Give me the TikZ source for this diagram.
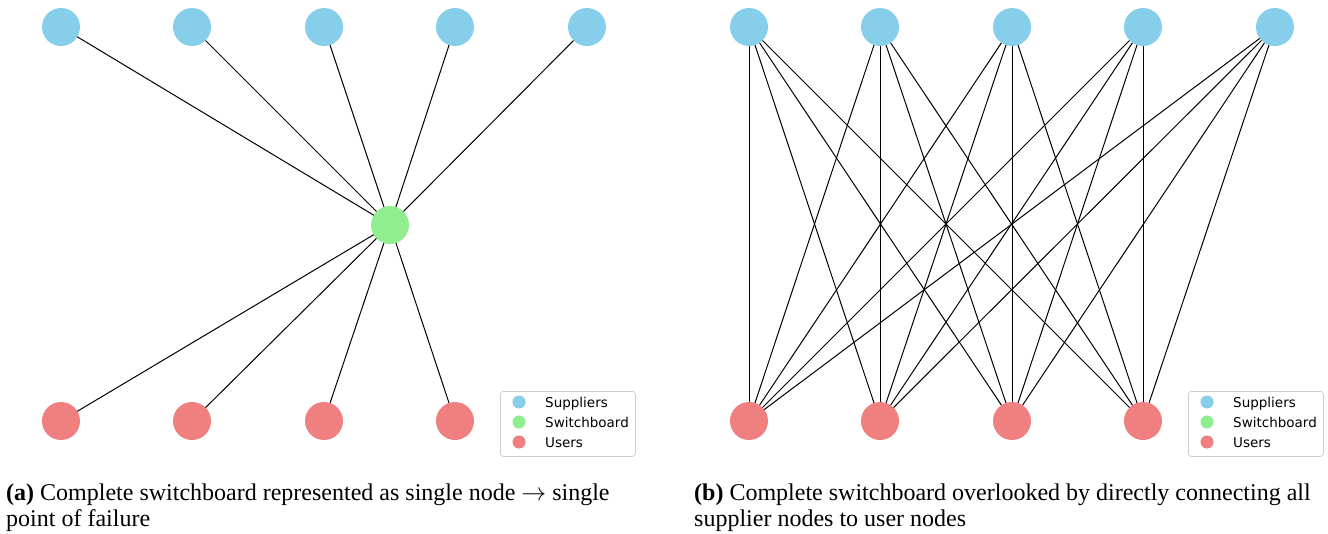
\documentclass[tikz,border=0pt]{standalone}
\usepackage{fontspec}
\setmainfont{Liberation Serif}
\newfontfamily\legfont{DejaVu Sans}
\usetikzlibrary{backgrounds}
\definecolor{supc}{HTML}{87CEEB}
\definecolor{swc}{HTML}{90EE90}
\definecolor{usrc}{HTML}{F08080}
\begin{document}
\begin{tikzpicture}[x=1pt,y=-1pt,
  vert/.style={circle,inner sep=0pt,minimum size=38pt,draw=none},
  supnode/.style={vert,fill=supc},
  swnode/.style={vert,fill=swc},
  usrnode/.style={vert,fill=usrc},
  edge/.style={line width=1pt,black},
  legbox/.style={draw=black!20,line width=0.8pt,rounded corners=3pt,fill=white},
  legmark/.style={circle,inner sep=0pt,minimum size=13pt},
  legtext/.style={anchor=west,inner sep=0pt,font=\legfont\fontsize{13.5}{16}\selectfont},
  captext/.style={anchor=north west,align=left,inner sep=0pt,font=\fontsize{24}{25.5}\selectfont}]
\useasboundingbox (0,0) rectangle (1328,533);
% ---------- panel (a) ----------
\foreach \i/\x in {1/61,2/192,3/324,4/455,5/587}
  \node[supnode] (as\i) at (\x,27) {};
\node[swnode] (asw) at (390,225) {};
\foreach \i/\x in {1/61,2/192,3/324,4/455}
  \node[usrnode] (au\i) at (\x,421) {};
\begin{pgfonlayer}{background}
\foreach \i in {1,...,5} \draw[edge] (as\i.center) -- (asw.center);
\foreach \i in {1,...,4} \draw[edge] (asw.center) -- (au\i.center);
\end{pgfonlayer}
% legend (a)
\node[legbox,minimum width=135pt,minimum height=65pt,anchor=north west] (alg) at (500,391) {};
\node[legmark,fill=supc] (alm1) at (519,402) {};
\node[legmark,fill=swc] (alm2) at (519,422) {};
\node[legmark,fill=usrc] (alm3) at (519,442) {};
\node[legtext] (alt1) at (545,403.5) {Suppliers};
\node[legtext] (alt2) at (545,422.5) {Switchboard};
\node[legtext] (alt3) at (545,442.5) {Users};
\node[captext] (acap) at (6,484) {\textbf{(a)} Complete switchboard represented as single node $\rightarrow$ single\\point of failure};
% ---------- panel (b) ----------
\foreach \i/\x in {1/749,2/880,3/1012,4/1143,5/1275}
  \node[supnode] (bs\i) at (\x,27) {};
\foreach \i/\x in {1/749,2/880,3/1012,4/1143}
  \node[usrnode] (bu\i) at (\x,421) {};
\begin{pgfonlayer}{background}
\foreach \i in {1,...,5}
  \foreach \j in {1,...,4}
    \draw[edge] (bs\i.center) -- (bu\j.center);
\end{pgfonlayer}
% legend (b)
\node[legbox,minimum width=135pt,minimum height=65pt,anchor=north west] (blg) at (1188,391) {};
\node[legmark,fill=supc] (blm1) at (1207,402) {};
\node[legmark,fill=swc] (blm2) at (1207,422) {};
\node[legmark,fill=usrc] (blm3) at (1207,442) {};
\node[legtext] (blt1) at (1233,403.5) {Suppliers};
\node[legtext] (blt2) at (1233,422.5) {Switchboard};
\node[legtext] (blt3) at (1233,442.5) {Users};
\node[captext] (bcap) at (694,484) {\textbf{(b)} Complete switchboard overlooked by directly connecting all\\supplier nodes to user nodes};
\end{tikzpicture}
\end{document}
